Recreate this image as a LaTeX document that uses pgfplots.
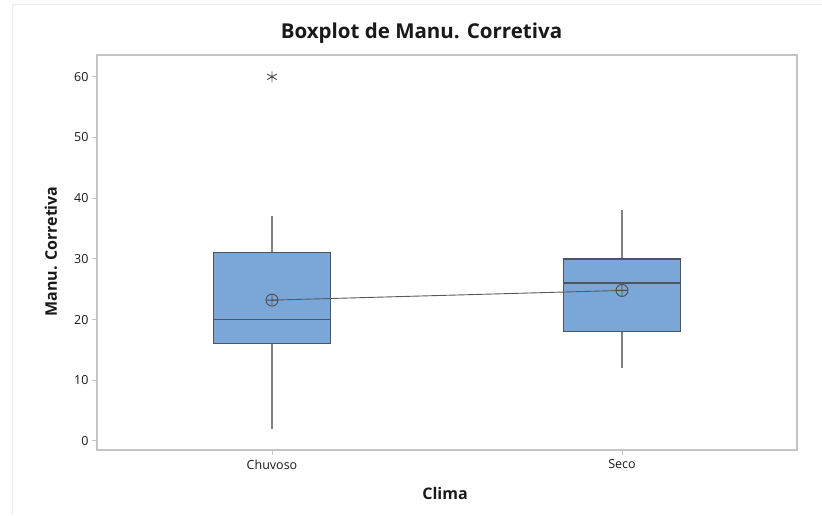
\documentclass[border=0pt]{standalone}
\usepackage{fontspec}
\setmainfont{Open Sans}
\usepackage{pgfplots}
\pgfplotsset{compat=1.18}
\definecolor{boxfill}{HTML}{7BA6D8}
\definecolor{boxedge}{HTML}{4F555C}
\definecolor{whisk}{HTML}{808080}
\definecolor{frame}{HTML}{C4C4C4}
\begin{document}
\begin{tikzpicture}
\path[use as bounding box] (0pt,0pt) rectangle (822pt,515pt);
\draw[black!8, line width=1pt] (12pt,0pt) -- (12pt,510pt) -- (822pt,510pt);
\begin{axis}[
  at={(97pt,65pt)}, anchor=south west, scale only axis,
  width=700pt, height=395pt,
  xmin=0.5, xmax=2.5, ymin=-1.5, ymax=63.6,
  xtick={1,2}, xticklabels={Chuvoso,Seco},
  ytick={0,10,20,30,40,50,60},
  xtick pos=bottom, ytick pos=left,
  tick align=outside, major tick length=5pt,
  axis line style={draw=frame, line width=1.4pt},
  tick style={draw=frame, line width=1pt},
  tick label style={font=\fontsize{12.5}{14}\selectfont, text=black!90},
  xticklabel style={yshift=-1pt},
  /pgf/number format/assume math mode=true,
  clip=false,
]
% whiskers
\addplot[draw=whisk, line width=1.4pt] coordinates {(1,2) (1,16)};
\addplot[draw=whisk, line width=1.4pt] coordinates {(1,31) (1,37)};
\addplot[draw=whisk, line width=1.4pt] coordinates {(2,12) (2,18)};
\addplot[draw=whisk, line width=1.4pt] coordinates {(2,30) (2,38)};
% boxes
\addplot[draw=boxedge, line width=1.3pt, fill=boxfill] coordinates {(0.8325,16) (1.1675,16) (1.1675,31) (0.8325,31)} -- cycle;
\addplot[draw=boxedge, line width=1.3pt, fill=boxfill] coordinates {(1.8325,18) (2.1675,18) (2.1675,30) (1.8325,30)} -- cycle;
% medians
\addplot[draw=boxedge, line width=1.4pt] coordinates {(0.8325,20) (1.1675,20)};
\addplot[draw=boxedge, line width=1.4pt] coordinates {(1.8325,26) (2.1675,26)};
% outlier
\addplot[only marks, mark=asterisk, mark size=5.5pt, mark options={draw=black!70, line width=0.9pt}] coordinates {(1,60)};
% means
\addplot[draw=black!65, line width=0.9pt, mark=oplus, mark size=6pt, mark options={draw=black!70, line width=0.9pt, fill=none}] coordinates {(1,23.2) (2,24.8)};
\end{axis}
\node[font=\fontsize{20.5}{24}\selectfont\bfseries, text=black!90] at (421.5pt,482pt) {Boxplot de Manu. Corretiva};
\node[font=\fontsize{16}{19}\selectfont\bfseries, text=black!90, anchor=base] at (445pt,16pt) {Clima};
\node[font=\fontsize{16}{19}\selectfont\bfseries, text=black!90, rotate=90] at (51pt,263.5pt) {Manu. Corretiva};
\end{tikzpicture}
\end{document}
